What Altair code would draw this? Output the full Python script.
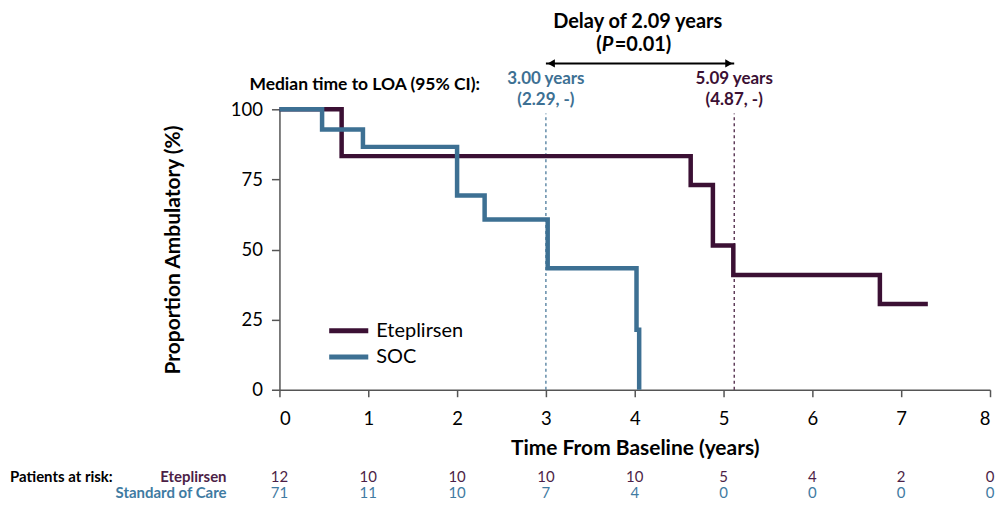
import altair as alt
import pandas as pd

FONT = "Lato"
PURPLE = "#3b1034"
BLUE = "#3d7093"
PURPLE_T = "#4d1f47"
BLUE_T = "#3f7ba2"

# Kaplan-Meier step data
ete_time = [0, 0.70, 4.63, 4.88, 5.11, 6.76, 7.30]
ete_surv = [100, 83.3, 73.0, 51.4, 40.9, 30.6, 30.6]
soc_time = [0, 0.48, 0.94, 2.00, 2.31, 3.02, 4.02, 4.05]
soc_surv = [100, 92.8, 86.6, 69.3, 60.7, 43.3, 21.4, 0]
series = ["Eteplirsen", "SOC"]

# medians
median_x = [3.00, 5.12]
median_lab1 = ["3.00 years", "5.09 years"]
median_lab2 = ["(2.29, -)", "(4.87, -)"]

# risk table
risk_ticks = [0, 1, 2, 3, 4, 5, 6, 7, 8]
risk_ete = [12, 10, 10, 10, 10, 5, 4, 2, 0]
risk_soc = [71, 11, 10, 7, 4, 0, 0, 0, 0]

km = pd.DataFrame(
    [{"t": t, "s": s, "grp": "Eteplirsen"} for t, s in zip(ete_time, ete_surv)]
    + [{"t": t, "s": s, "grp": "SOC"} for t, s in zip(soc_time, soc_surv)]
)

xscale = alt.Scale(domain=[0, 8], nice=False, zero=False)
yscale = alt.Scale(domain=[0, 100], nice=False)
cscale = alt.Scale(domain=series, range=[PURPLE, BLUE])

lines = alt.Chart(km).mark_line(interpolate="step-after", strokeWidth=4.5, clip=False).encode(
    x=alt.X("t:Q", scale=xscale,
            axis=alt.Axis(values=risk_ticks, title="Time From Baseline (years)", tickSize=7,
                          labelPadding=13, titlePadding=9, format="d")),
    y=alt.Y("s:Q", scale=yscale,
            axis=alt.Axis(values=[0, 25, 50, 75, 100], title="Proportion Ambulatory (%)",
                          tickSize=8, labelPadding=9, titlePadding=47)),
    color=alt.Color("grp:N", scale=cscale, legend=None),
    detail="grp:N",
)

med = pd.DataFrame({"x": median_x, "l1": median_lab1, "l2": median_lab2})
med["grp"] = ["SOC", "Eteplirsen"]

dash = alt.Chart(med).mark_rule(strokeDash=[3, 3], strokeWidth=1.2).encode(
    x="x:Q", y=alt.datum(0), y2=alt.datum(98.5),
    color=alt.Color("grp:N", scale=cscale, legend=None),
)

tcolor = alt.Scale(domain=series, range=[PURPLE_T, BLUE_T])
mlab1 = alt.Chart(med).mark_text(font=FONT, fontSize=17, fontWeight="bold", baseline="middle").encode(
    x="x:Q", y=alt.value(-30), text="l1:N", color=alt.Color("grp:N", scale=tcolor, legend=None))
mlab2 = alt.Chart(med).mark_text(font=FONT, fontSize=17, fontWeight="bold", baseline="middle").encode(
    x="x:Q", y=alt.value(-9), text="l2:N", color=alt.Color("grp:N", scale=tcolor, legend=None))

ann = pd.DataFrame({"a": [0]})
median_title = alt.Chart(ann).mark_text(font=FONT, fontSize=17.5, fontWeight="bold", align="right",
                                         baseline="middle", color="black").encode(
    x=alt.value(201), y=alt.value(-24), text=alt.value("Median time to LOA (95% CI):"))
delay1 = alt.Chart(ann).mark_text(font=FONT, fontSize=20, fontWeight="bold", baseline="middle",
                                   color="black").encode(
    x=alt.value(359), y=alt.value(-87), text=alt.value("Delay of 2.09 years"))
p_open = alt.Chart(ann).mark_text(font=FONT, fontSize=20, fontWeight="bold", baseline="middle",
                                   align="right", color="black").encode(
    x=alt.value(323), y=alt.value(-64), text=alt.value("("))
p_it = alt.Chart(ann).mark_text(font=FONT, fontSize=20, fontWeight="bold", fontStyle="italic",
                                 baseline="middle", align="left", color="black").encode(
    x=alt.value(323), y=alt.value(-64), text=alt.value("P"))
p_rest = alt.Chart(ann).mark_text(font=FONT, fontSize=20, fontWeight="bold", baseline="middle",
                                   align="left", color="black").encode(
    x=alt.value(336), y=alt.value(-64), text=alt.value("=0.01)"))

arrow = pd.DataFrame({"x1": [median_x[0]], "x2": [median_x[1]]})
arrow_line = alt.Chart(arrow).mark_rule(color="black", strokeWidth=2).encode(
    x="x1:Q", x2="x2:Q", y=alt.value(-46))
heads = pd.DataFrame({"x": [median_x[0] + 0.06, median_x[1] - 0.06],
                      "shape": ["triangle-left", "triangle-right"]})
arrow_heads = alt.Chart(heads).mark_point(filled=True, color="black", size=70, opacity=1).encode(
    x="x:Q", y=alt.value(-46),
    shape=alt.Shape("shape:N", scale=alt.Scale(domain=["triangle-left", "triangle-right"],
                                               range=["triangle-left", "triangle-right"]), legend=None))

# manual legend
leg = pd.DataFrame({"grp": series, "y": [21.0, 11.7]})
leg_lines = alt.Chart(leg).mark_rule(strokeWidth=5).encode(
    x=alt.datum(0.56), x2=alt.datum(1.0), y="y:Q",
    color=alt.Color("grp:N", scale=cscale, legend=None))
leg_text = alt.Chart(leg).mark_text(font=FONT, fontSize=20, align="left", baseline="middle",
                                     color="black").encode(
    x=alt.datum(1.09), y="y:Q", text="grp:N")

# risk table
risk = pd.DataFrame(
    [{"t": t, "n": n, "grp": "Eteplirsen"} for t, n in zip(risk_ticks, risk_ete)]
    + [{"t": t, "n": n, "grp": "SOC"} for t, n in zip(risk_ticks, risk_soc)]
)
ROW1 = 368
ROW2 = 384
risk_e = alt.Chart(risk).transform_filter(alt.datum.grp == "Eteplirsen").mark_text(
    font=FONT, fontSize=15, baseline="middle", color=PURPLE_T).encode(
    x="t:Q", y=alt.value(ROW1), text="n:Q")
risk_s = alt.Chart(risk).transform_filter(alt.datum.grp == "SOC").mark_text(
    font=FONT, fontSize=15, baseline="middle", color=BLUE_T).encode(
    x="t:Q", y=alt.value(ROW2), text="n:Q")
risk_hdr = alt.Chart(ann).mark_text(font=FONT, fontSize=15, fontWeight="bold", align="left",
                                     baseline="middle", color="black").encode(
    x=alt.value(-270), y=alt.value(ROW1), text=alt.value("Patients at risk:"))
risk_l1 = alt.Chart(ann).mark_text(font=FONT, fontSize=15, fontWeight="bold", align="right",
                                    baseline="middle", color=PURPLE_T).encode(
    x=alt.value(-53), y=alt.value(ROW1), text=alt.value("Eteplirsen"))
risk_l2 = alt.Chart(ann).mark_text(font=FONT, fontSize=15, fontWeight="bold", align="right",
                                    baseline="middle", color=BLUE_T).encode(
    x=alt.value(-53), y=alt.value(ROW2), text=alt.value("Standard of Care"))

chart = alt.layer(
    dash, lines, mlab1, mlab2, median_title, delay1, p_open, p_it, p_rest,
    arrow_line, arrow_heads, leg_lines, leg_text,
    risk_e, risk_s, risk_hdr, risk_l1, risk_l2,
).properties(
    width=712, height=281,
    autosize=alt.AutoSizeParams(type="none"),
    padding={"left": 272, "top": 101, "right": 6, "bottom": 112},
).configure_view(strokeWidth=0).configure_axis(
    labelFont=FONT, titleFont=FONT, labelFontSize=18.5, titleFontSize=21, titleFontWeight="bold",
    labelColor="black", titleColor="black", domainColor="#555555", tickColor="#555555",
    domainWidth=1.5, tickWidth=1.5, grid=False,
)

chart.save("out.html", embed_options={"renderer": "svg", "actions": False})
